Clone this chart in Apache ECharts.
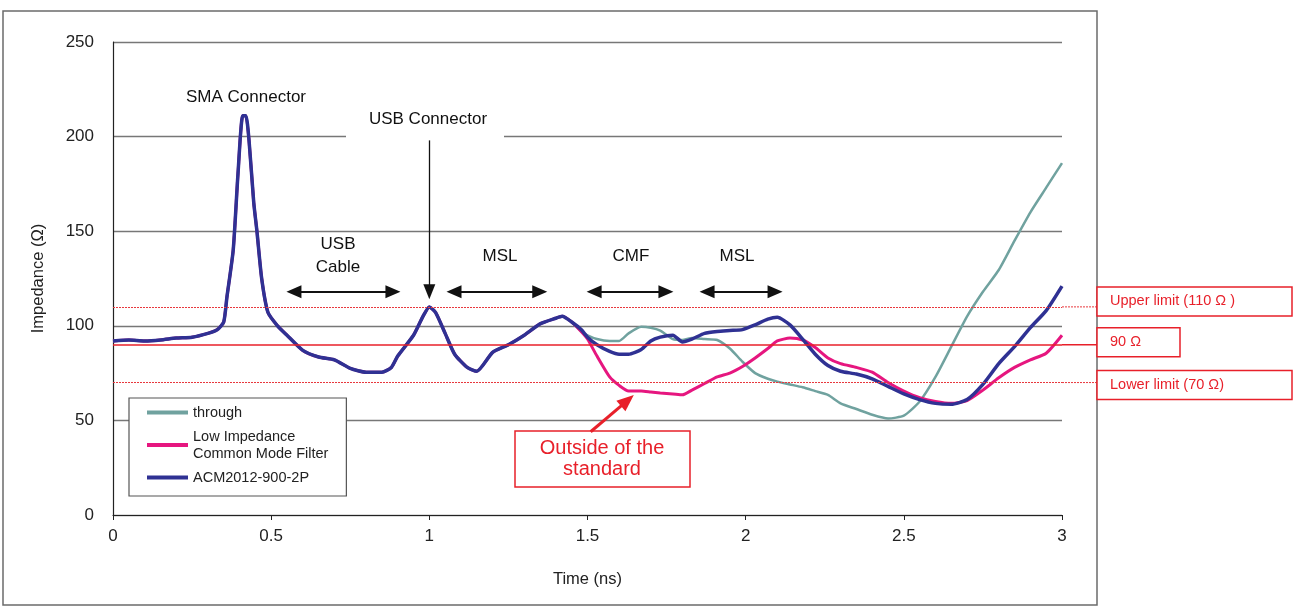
<!DOCTYPE html>
<html>
<head>
<meta charset="utf-8">
<script src="https://cdn.jsdelivr.net/npm/echarts@6.0.0/dist/echarts.min.js"></script>
<style>
  html, body { margin: 0; padding: 0; background: #fff; }
  #chart { width: 1296px; height: 608px; }
</style>
</head>
<body>
<div id="chart"></div>
<script>
  // time axis (ns), shared by the three traces
  const times = [
    0, 0.05, 0.1, 0.15, 0.2, 0.25, 0.3, 0.33, 0.35, 0.36, 0.38, 0.395, 0.41, 0.42, 0.43, 0.445, 0.455, 0.47, 0.49, 0.52,
    0.55, 0.6, 0.65, 0.7, 0.75, 0.8, 0.85, 0.88, 0.9, 0.95, 0.98, 1.0, 1.02, 1.05, 1.08, 1.12, 1.15, 1.2, 1.25, 1.3,
    1.35, 1.4, 1.42, 1.45,
    1.48, 1.5, 1.53, 1.57, 1.6, 1.63, 1.67, 1.7, 1.73, 1.77, 1.8, 1.83, 1.87, 1.91, 1.95, 1.99, 2.03, 2.07, 2.1, 2.14,
    2.18, 2.22, 2.26, 2.3, 2.35, 2.4, 2.45, 2.5, 2.55, 2.6, 2.65, 2.7, 2.75, 2.8, 2.85, 2.9, 2.95, 3.0
  ];

  const through = [
    92, 92.5, 92, 92.5, 93.5, 94, 96, 98, 102, 115, 140, 180, 211, 211, 198, 165, 150, 125, 107, 100,
    95, 87, 83.5, 82, 77.5, 75.5, 75.5, 78, 84, 95, 105, 110, 107, 96, 85, 78, 76, 86, 90, 95,
    101, 104, 105, 102,
    97, 95, 93, 92, 92, 96, 99.5, 99, 97.5, 93, 92.5, 93.5, 93, 92.5, 88, 81, 75, 72, 70.5, 69,
    67.5, 65.5, 63.5, 59, 56, 53, 51, 52.5, 60, 73, 89, 105, 118, 129.5, 145, 160, 173, 186
  ];

  const lowImpedanceCMF = [
    92, 92.5, 92, 92.5, 93.5, 94, 96, 98, 102, 115, 140, 180, 211, 211, 198, 165, 150, 125, 107, 100,
    95, 87, 83.5, 82, 77.5, 75.5, 75.5, 78, 84, 95, 105, 110, 107, 96, 85, 78, 76, 86, 90, 95,
    101, 104, 105, 102,
    97, 93, 84, 73, 68.5, 65.5, 65.5, 65, 64.5, 64, 63.5, 66, 69.5, 73, 75, 78.5, 83, 88, 92, 93.5,
    92.5, 88.5, 83, 80, 78, 75.5, 70, 65.5, 62, 60, 59, 60.5, 66, 72.5, 78, 82, 85.5, 95
  ];

  const acm2012 = [
    92, 92.5, 92, 92.5, 93.5, 94, 96, 98, 102, 115, 140, 180, 211, 211, 198, 165, 150, 125, 107, 100,
    95, 87, 83.5, 82, 77.5, 75.5, 75.5, 78, 84, 95, 105, 110, 107, 96, 85, 78, 76, 86, 90, 95,
    101, 104, 105, 102,
    98, 94, 90, 86.5, 85, 85, 87.5, 92, 94, 95, 91.5, 93, 96, 97, 97.5, 98, 100.5, 103.5, 104.5, 100.5,
    93, 85, 79, 76, 74.5, 72, 68, 64, 61, 59, 58.5, 61, 69, 80, 89, 99, 108, 121
  ];

  const seriesNames = ['through', 'Low Impedance\nCommon Mode Filter', 'ACM2012-900-2P'];
  const limitValues = [110, 90, 70];
  const limitLabels = ['Upper limit (110 Ω )', '90 Ω', 'Lower limit (70 Ω)'];

  const FONT = '"Liberation Sans", Arial, sans-serif';
  const RED = '#e8202a';

  function pairs(vals) {
    return times.map((t, i) => [t, vals[i]]);
  }

  function seg(x1, y1, x2, y2) {
    return [{ coord: [x1, y1] }, { coord: [x2, y2] }];
  }

  const chart = echarts.init(document.getElementById('chart'));

  const option = {
    animation: false,
    backgroundColor: '#fff',
    textStyle: { fontFamily: FONT },
    grid: { left: 113, right: 234, top: 42, bottom: 93 },
    legend: {
      data: seriesNames,
      orient: 'vertical',
      left: 129,
      top: 398,
      padding: [6, 18, 10, 18],
      itemGap: 7,
      itemWidth: 41,
      itemHeight: 4,
      icon: 'rect',
      borderColor: '#555',
      borderWidth: 1.2,
      backgroundColor: '#fff',
      selectedMode: false,
      textStyle: { fontSize: 14.5, lineHeight: 17, color: '#222', fontFamily: FONT },
    },
    xAxis: {
      type: 'value',
      min: 0,
      max: 3,
      interval: 0.5,
      name: 'Time (ns)',
      nameLocation: 'middle',
      nameGap: 56,
      nameTextStyle: { fontSize: 16.5, color: '#222' },
      axisLine: { lineStyle: { color: '#222', width: 1.2 } },
      axisTick: { show: true, length: 5, lineStyle: { color: '#222' } },
      axisLabel: { fontSize: 17, color: '#222', margin: 13 },
      splitLine: { show: false },
    },
    yAxis: {
      type: 'value',
      min: 0,
      max: 250,
      interval: 50,
      name: 'Impedance (Ω)',
      nameLocation: 'middle',
      nameGap: 66,
      nameTextStyle: { fontSize: 16.5, color: '#222' },
      axisLine: { show: true, lineStyle: { color: '#222', width: 1.2 } },
      axisTick: { show: false },
      axisLabel: { fontSize: 17, color: '#222', margin: 19 },
      splitLine: { show: true, lineStyle: { color: '#777', width: 1.3 } },
    },
    series: [
      {
        name: seriesNames[0],
        type: 'line',
        data: pairs(through),
        showSymbol: false,
        smooth: 0.2,
        color: '#70a29f',
        lineStyle: { color: '#70a29f', width: 2.5 },
      },
      {
        name: seriesNames[1],
        type: 'line',
        data: pairs(lowImpedanceCMF),
        showSymbol: false,
        smooth: 0.2,
        color: '#e6167f',
        lineStyle: { color: '#e6167f', width: 3 },
      },
      {
        name: seriesNames[2],
        type: 'line',
        data: pairs(acm2012),
        showSymbol: false,
        smooth: 0.2,
        color: '#2f3193',
        lineStyle: { color: '#2f3193', width: 3.5 },
      },
      {
        // limit lines
        name: 'limits',
        type: 'line',
        data: [],
        markLine: {
          silent: true,
          symbol: 'none',
          label: { show: false },
          data: [
            { yAxis: limitValues[0], lineStyle: { color: '#e8383d', width: 1, type: [2, 1] } },
            { yAxis: limitValues[1], lineStyle: { color: RED, width: 1.5, type: 'solid' } },
            { yAxis: limitValues[2], lineStyle: { color: '#e8383d', width: 1, type: [2, 1] } },
          ],
        },
      },
      {
        // section arrows
        name: 'sections',
        type: 'line',
        data: [],
        markLine: {
          silent: true,
          symbol: ['triangle', 'triangle'],
          symbolSize: [13, 15],
          label: { show: false },
          lineStyle: { color: '#111', width: 2, type: 'solid' },
          data: [
            seg(0.572, 118, 0.885, 118),
            seg(1.078, 118, 1.349, 118),
            seg(1.521, 118, 1.748, 118),
            seg(1.878, 118, 2.093, 118),
          ],
        },
      },
      {
        name: 'usbArrow',
        type: 'line',
        data: [],
        markLine: {
          silent: true,
          symbol: ['none', 'triangle'],
          symbolSize: [12, 15],
          label: { show: false },
          lineStyle: { color: '#111', width: 1.3, type: 'solid' },
          data: [seg(1.0, 198, 1.0, 118)],
        },
      },
      {
        name: 'outsideArrow',
        type: 'line',
        data: [],
        markLine: {
          silent: true,
          symbol: ['none', 'triangle'],
          symbolSize: [14, 17],
          label: { show: false },
          lineStyle: { color: RED, width: 3, type: 'solid' },
          data: [seg(1.51, 44, 1.626, 60.5)],
        },
      },
    ],
  };

  chart.setOption(option);

  // annotations, frame and limit label boxes
  const graphic = [
    {
      type: 'rect',
      shape: { x: 3, y: 11, width: 1094, height: 594 },
      style: { fill: 'none', stroke: '#6b6b6b', lineWidth: 1.5 },
      silent: true,
    },
    { type: 'rect', shape: { x: 346, y: 102, width: 158, height: 36 }, style: { fill: '#fff' } },
    { type: 'text', x: 246, y: 97, style: { text: 'SMA Connector', font: '17px ' + FONT, fill: '#111', align: 'center', verticalAlign: 'middle' } },
    { type: 'text', x: 428, y: 119, style: { text: 'USB Connector', font: '17px ' + FONT, fill: '#111', align: 'center', verticalAlign: 'middle' } },
    { type: 'text', x: 338, y: 256, style: { text: 'USB\nCable', font: '17px ' + FONT, lineHeight: 23, fill: '#111', align: 'center', verticalAlign: 'middle' } },
    { type: 'text', x: 500, y: 256, style: { text: 'MSL', font: '17px ' + FONT, fill: '#111', align: 'center', verticalAlign: 'middle' } },
    { type: 'text', x: 631, y: 256, style: { text: 'CMF', font: '17px ' + FONT, fill: '#111', align: 'center', verticalAlign: 'middle' } },
    { type: 'text', x: 737, y: 256, style: { text: 'MSL', font: '17px ' + FONT, fill: '#111', align: 'center', verticalAlign: 'middle' } },
    {
      type: 'rect',
      shape: { x: 515, y: 431, width: 175, height: 56 },
      style: { fill: '#fff', stroke: RED, lineWidth: 1.5 },
    },
    { type: 'text', x: 602, y: 459, style: { text: 'Outside of the\nstandard', font: '20px ' + FONT, lineHeight: 21, fill: RED, align: 'center', verticalAlign: 'middle' } },
  ];

  const xEnd = chart.convertToPixel({ xAxisIndex: 0 }, 3);
  const boxWidths = [195, 83, 195];
  const boxShift = [-6, -3, 2];
  limitValues.forEach((v, i) => {
    const y = chart.convertToPixel({ yAxisIndex: 0 }, v);
    graphic.push({
      type: 'line',
      shape: { x1: xEnd, y1: y, x2: 1097, y2: y },
      style: { stroke: i === 1 ? RED : '#e8383d', lineWidth: i === 1 ? 1.5 : 1, lineDash: i === 1 ? null : [2, 1] },
    });
    graphic.push({
      type: 'rect',
      shape: { x: 1097, y: y + boxShift[i] - 14, width: boxWidths[i], height: 29 },
      style: { fill: '#fff', stroke: RED, lineWidth: 1.5 },
    });
    graphic.push({
      type: 'text',
      x: 1110,
      y: y + boxShift[i],
      style: { text: limitLabels[i], font: '14.5px ' + FONT, fill: RED, verticalAlign: 'middle' },
    });
  });

  chart.setOption({ graphic: graphic });
  window.addEventListener('resize', chart.resize);
</script>
</body>
</html>
